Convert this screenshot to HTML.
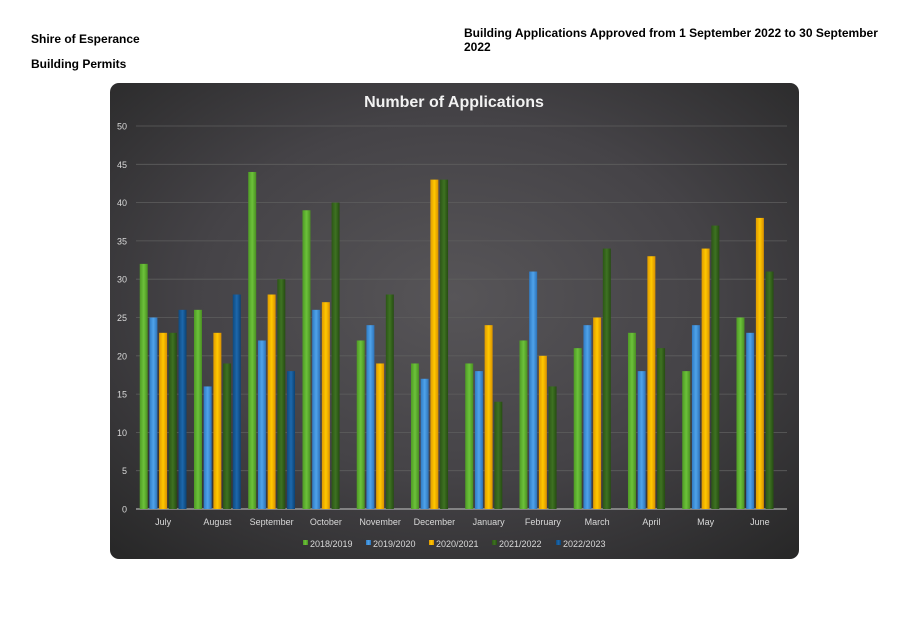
<!DOCTYPE html>
<html><head><meta charset="utf-8">
<style>
body{margin:0;width:907px;height:641px;background:#fff;font-family:"Liberation Sans",sans-serif;overflow:hidden;position:relative}
.h{position:absolute;font-weight:bold;font-size:12px;color:#000}
</style></head><body>
<div class="h" style="left:31px;top:32px">Shire of Esperance</div>
<div class="h" style="left:31px;top:57px">Building Permits</div>
<div class="h" style="left:464px;top:26px">Building Applications Approved from 1 September 2022 to 30 September 2022</div>
<svg id="chart" width="907" height="641" style="position:absolute;left:0;top:0">
<defs>
<radialGradient id="bg" cx="0.5" cy="0.45" r="0.75">
<stop offset="0" stop-color="#575558"/><stop offset="0.5" stop-color="#454347"/><stop offset="1" stop-color="#262626"/>
</radialGradient>
<linearGradient id="g0" x1="0" x2="1"><stop offset="0" stop-color="#4e9a25"/><stop offset="0.5" stop-color="#6cc23a"/><stop offset="1" stop-color="#4a8f22"/></linearGradient>
<linearGradient id="g1" x1="0" x2="1"><stop offset="0" stop-color="#2f7bc4"/><stop offset="0.5" stop-color="#4fa3ea"/><stop offset="1" stop-color="#2d72b8"/></linearGradient>
<linearGradient id="g2" x1="0" x2="1"><stop offset="0" stop-color="#e09a00"/><stop offset="0.5" stop-color="#ffc800"/><stop offset="1" stop-color="#d99000"/></linearGradient>
<linearGradient id="g3" x1="0" x2="1"><stop offset="0" stop-color="#2c5616"/><stop offset="0.5" stop-color="#3e7222"/><stop offset="1" stop-color="#264c12"/></linearGradient>
<linearGradient id="g4" x1="0" x2="1"><stop offset="0" stop-color="#0e4a80"/><stop offset="0.5" stop-color="#1d68ac"/><stop offset="1" stop-color="#0c4274"/></linearGradient>
</defs>
<rect x="110" y="83" width="689" height="476" rx="9" fill="url(#bg)"/>
<text x="454" y="107" text-anchor="middle" font-size="16" font-weight="bold" fill="#f2f2f2">Number of Applications</text>
<g id="grid"></g><g id="bars"></g><g id="labels"></g><g id="legend"></g>
</svg>
<script>
const categories=["July","August","September","October","November","December","January","February","March","April","May","June"];
const seriesNames=["2018/2019","2019/2020","2020/2021","2021/2022","2022/2023"];
const s2018=[32,26,44,39,22,19,19,22,21,23,18,25];
const s2019=[25,16,22,26,24,17,18,31,24,18,24,23];
const s2020=[23,23,28,27,19,43,24,20,25,33,34,38];
const s2021=[23,19,30,40,28,43,14,16,34,21,37,31];
const s2022=[26,28,18,null,null,null,null,null,null,null,null,null];
const yTicks=[0,5,10,15,20,25,30,35,40,45,50];
const series=[s2018,s2019,s2020,s2021,s2022];
const NS="http://www.w3.org/2000/svg";
const x0=136,x1=787,y0=509,y1=126,yMax=50;
const bw=(x1-x0)/categories.length;
const y=v=>y0-(v/yMax)*(y0-y1);
const xc=i=>x0+bw*(i+0.5);
function mk(t,a,p){const e=document.createElementNS(NS,t);for(const k in a)e.setAttribute(k,a[k]);p.appendChild(e);return e;}
const grid=document.getElementById('grid'),bars=document.getElementById('bars'),labels=document.getElementById('labels'),legend=document.getElementById('legend');
yTicks.forEach(t=>{
 const l=mk('line',{x1:x0,x2:x1,y1:y(t),y2:y(t),stroke:t===0?'#9a9a9a':'#5e5e5e','stroke-width':t===0?1.5:0.8},grid);
 
 
 const tx=mk('text',{x:127,y:y(t)+3.5,'text-anchor':'end','font-size':9,fill:'#d9d9d9'},labels);
 tx.textContent=t;
 
 
});
const pitch=9.7,w=8;
categories.forEach((c,i)=>{
 series.forEach((s,j)=>{
  const v=s[i]; if(v==null) return;
  const bx=xc(i)+(j-2)*pitch-w/2;
  const r=mk('rect',{x:bx,y:y(v),width:w,height:y0-y(v),fill:'url(#g'+j+')'},bars);
  
  
 });
 const tx=mk('text',{x:xc(i),y:525,'text-anchor':'middle','font-size':9,fill:'#d9d9d9'},labels);
 tx.textContent=c;
 
 
});
const lx=[303,366,429,492,556];
seriesNames.forEach((n,j)=>{
 const g=mk('g',{},legend);
 
 
 mk('rect',{x:lx[j],y:540,width:5,height:5,fill:'url(#g'+j+')'},g);
 const t=mk('text',{x:lx[j]+7,y:547,'font-size':9,fill:'#d9d9d9'},g);
 t.textContent=n;
});
</script>
</body></html>
